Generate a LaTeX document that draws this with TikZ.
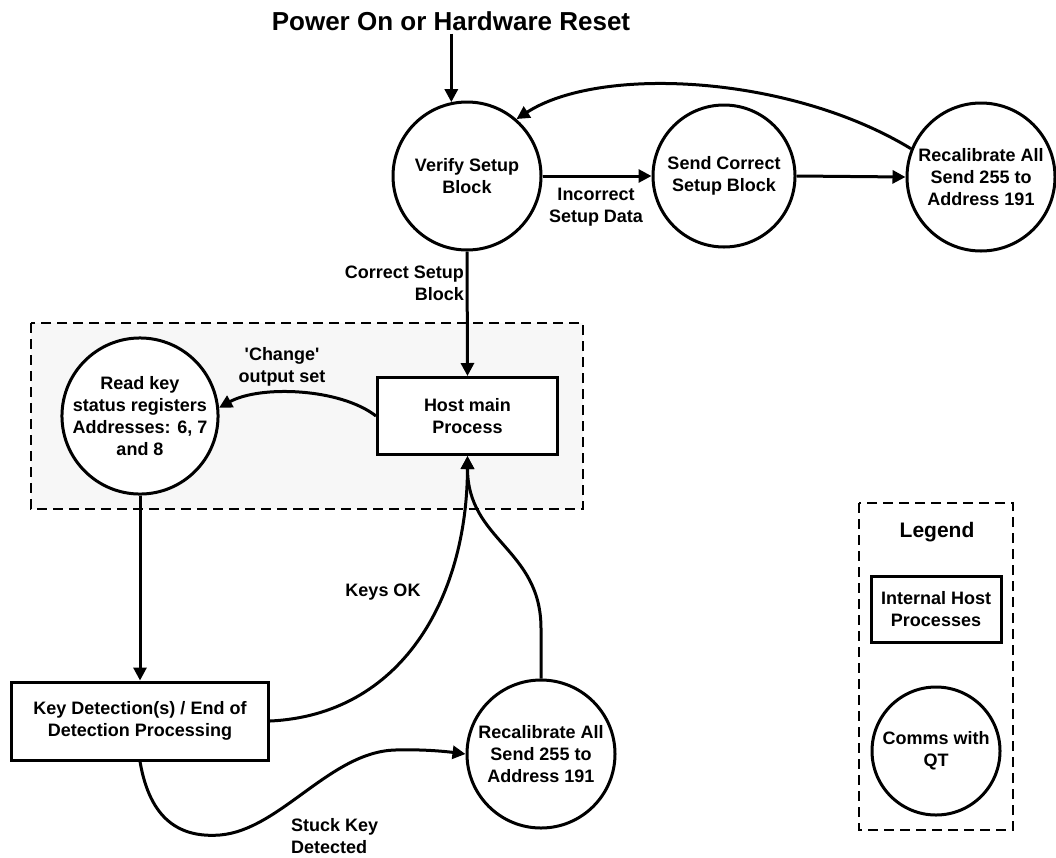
\documentclass[tikz,border=0pt]{standalone}
\usepackage{fontspec}
\setmainfont{Liberation Sans}
\usetikzlibrary{arrows.meta,calc}
\definecolor{boxgrey}{HTML}{F7F7F7}
\begin{document}
\begin{tikzpicture}[x=1pt,y=-1pt,
  lbl/.style={font=\bfseries\fontsize{18}{22}\selectfont, align=center, inner sep=0pt},
  proc/.style={lbl, draw, line width=3pt, fill=white, rectangle},
  comm/.style={lbl, draw, line width=3pt, fill=white, circle},
  arr/.style={line width=3pt, -{Triangle[length=13pt,width=13pt]}},
  grp/.style={line width=1.8pt, dash pattern=on 10pt off 6pt}]
\useasboundingbox (0,0) rectangle (1056,857);

% background group box
\draw[grp, fill=boxgrey] (31,323) rectangle (583,509);
% legend box
\draw[grp] (859,503) rectangle (1013,830);

% title
\node[font=\bfseries\fontsize{26}{30}\selectfont, inner sep=3pt] (title) at (451,21) {Power On or Hardware Reset};

% nodes
\node[comm, minimum size=148pt] (verify) at (467,176) {Verify Setup\\Block};
\node[comm, minimum size=142pt] (send) at (724,176) {Send Correct\\Setup Block};
\node[comm, minimum size=148pt] (recal1) at (981,177) {Recalibrate All\\Send 255 to\\Address 191};
\node[proc, minimum width=180pt, minimum height=77pt] (host) at (467.5,416) {Host main\\Process};
\node[comm, minimum size=154pt] (readkey) at (140,416) {Read key\\status registers\\Addresses: 6, 7\\and 8};
\node[proc, minimum width=257pt, minimum height=78pt] (keydet) at (140,721) {Key Detection(s) / End of\\Detection Processing};
\node[comm, minimum size=148pt] (recal2) at (541,754) {Recalibrate All\\Send 255 to\\Address 191};

% legend
\node[font=\bfseries\fontsize{21}{25}\selectfont, inner sep=0pt] (legend) at (937,532) {Legend};
\node[proc, minimum width=130pt, minimum height=66pt] (legproc) at (936,609) {Internal Host\\Processes};
\node[comm, minimum size=128pt] (legcomm) at (936,751) {Comms with\\QT};

% connectors
\draw[arr] (title.south -| verify.102.5) -- (verify.102.5);
\draw[arr] (verify.east) -- (send.west);
\draw[arr] (send.east) -- (recal1.west);
\draw[arr] (recal1.158) .. controls (790,75) and (600,65) .. (verify.49);
\draw[arr] (verify.south) -- (host.north);
\draw[arr] (host.west) .. controls (340,388) and (260,385) .. (readkey.6);
\draw[arr] (readkey.south) -- (keydet.north);
\draw[arr] (keydet.east) .. controls (400,715) and (467,600) .. (host.south);
\draw[arr] (recal2.north) -- ++(0,-50) .. controls +(0,-80) and +(0,85) .. (host.south);
\draw[arr] (keydet.south) .. controls (150,820) and (180,838) .. (220,835)
  .. controls (280,830) and (330,752) .. (395,750)
  .. controls (425,749) and (450,752) .. (recal2.west);

% labels
\node[lbl] (lincorrect) at (596,207) {Incorrect\\Setup Data};
\node[lbl, anchor=east, align=right] (lcorrect) at (464,283) {Correct Setup\\Block};
\node[lbl] (lchange) at (282,367) {\textquotesingle Change\textquotesingle\\output set};
\node[lbl] (lkeysok) at (383,592) {Keys OK};
\node[lbl, anchor=west, align=left] (lstuck) at (291,836) {Stuck Key\\Detected};
\end{tikzpicture}
\end{document}
